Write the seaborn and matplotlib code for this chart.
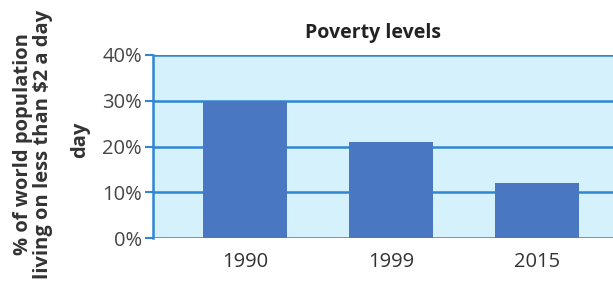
import matplotlib
matplotlib.use("Agg")
import matplotlib.pyplot as plt
import seaborn as sns
import pandas as pd

years = ["1990", "1999", "2015"]
poverty_pct = [30, 21, 12]
yticks = [0, 10, 20, 30, 40]
ytick_labels = ["0%", "10%", "20%", "30%", "40%"]

sns.set_theme(style="white")
plt.rcParams['font.family'] = ['Open Sans', 'DejaVu Sans']

df = pd.DataFrame({"year": years, "pct": poverty_pct})

fig = plt.figure(figsize=(6.13, 2.81), dpi=100)
ax = fig.add_axes([153/613, 1-238/281, 1-153/613, (238-55)/281])
ax.set_facecolor("#d5f2fc")

grid_c = "#2f86d2"
sns.barplot(data=df, x="year", y="pct", color="#4a77c2", width=0.57,
            saturation=1, ax=ax, zorder=3, edgecolor="none", linewidth=0)

ax.set_ylim(0, 40)
ax.set_xlim(-0.63, 2.52)
ax.set_yticks(yticks)
ax.set_yticklabels(ytick_labels)
for y in yticks:
    ax.axhline(y, color=grid_c, lw=1.8, zorder=2)

for s in ["top", "right", "bottom"]:
    ax.spines[s].set_visible(False)
ax.spines["left"].set_color(grid_c)
ax.spines["left"].set_linewidth(1.8)
ax.spines["left"].set_zorder(4)

ax.tick_params(axis="y", which="major", left=True, length=6, width=1.5,
               color=grid_c, labelsize=14.5, labelcolor="#454545", pad=2)
ax.tick_params(axis="x", bottom=False, labelsize=14.5, labelcolor="#333333", pad=4)
ax.set_xlabel("")
ax.set_ylabel("")

fig.text(373/613, 1-33/281, "Poverty levels", ha="center", va="center",
         fontsize=14, fontweight="bold", color="#222222")
fig.text(33/613, 1-144/281, "% of world population\nliving on less than $2 a day",
         ha="center", va="center", rotation=90, fontsize=14.5, fontweight="bold",
         color="#333333", linespacing=1.0, multialignment="center")
fig.text(80/613, 1-140/281, "day", ha="center", va="center", rotation=90,
         fontsize=14.5, fontweight="bold", color="#333333")

fig.savefig("out.png", dpi=100)
